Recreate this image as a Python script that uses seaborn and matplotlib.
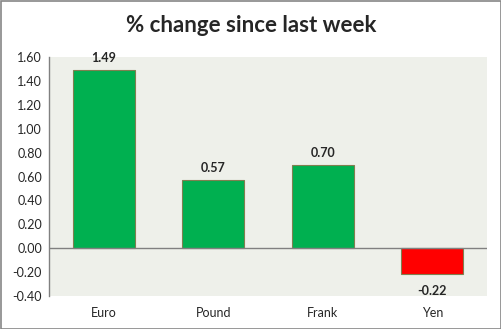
import matplotlib
matplotlib.use("Agg")
import matplotlib.pyplot as plt
import seaborn as sns
import pandas as pd
from matplotlib.patches import Rectangle

categories = ["Euro", "Pound", "Frank", "Yen"]
values = [1.49, 0.57, 0.70, -0.22]
yticks = [-0.40, -0.20, 0.00, 0.20, 0.40, 0.60, 0.80, 1.00, 1.20, 1.40, 1.60]
title = "% change since last week"

sns.set_theme(style="white")
plt.rcParams['font.family'] = ['Lato', 'DejaVu Sans']

df = pd.DataFrame({"cat": categories, "val": values})
colors = ["#00B050" if v >= 0 else "#FF0000" for v in values]

fig = plt.figure(figsize=(5.02, 3.29), dpi=100)
ax = fig.add_axes([49/502, 1-296/329, (487-49)/502, (296-57)/329])
ax.set_facecolor("#EEF0EA")
sns.barplot(data=df, x="cat", y="val", hue="cat", palette=colors, legend=False,
            width=0.57, edgecolor="#7F7F50", linewidth=0.8, ax=ax, saturation=1)
ax.set_ylim(-0.40, 1.60)
ax.set_yticks(yticks)
ax.set_yticklabels([f"{t:.2f}" for t in yticks], fontsize=9)
ax.tick_params(axis='x', labelsize=9, length=0, pad=8)
ax.tick_params(axis='y', length=0, pad=5)
ax.set_xlabel("")
ax.set_ylabel("")
for s in ["top", "right", "bottom"]:
    ax.spines[s].set_visible(False)
ax.spines["left"].set_color("#808080")
ax.spines["left"].set_linewidth(1)
ax.axhline(0, color="#808080", linewidth=1, zorder=3)

for i, v in enumerate(values):
    if v >= 0:
        ax.text(i, v + 0.05, f"{v:.2f}", ha="center", va="bottom", fontsize=9, fontweight="bold")
    else:
        ax.text(i, v - 0.09, f"{v:.2f}", ha="center", va="top", fontsize=9, fontweight="bold")

fig.text(0.5, 1-25/329, title, ha="center", va="center", fontsize=16, fontweight="bold")
fig.patches.append(Rectangle((0.001, 0.001), 0.997, 0.997, transform=fig.transFigure,
                             fill=False, edgecolor="#868686", linewidth=1.2))
fig.savefig("out.png", dpi=100)
